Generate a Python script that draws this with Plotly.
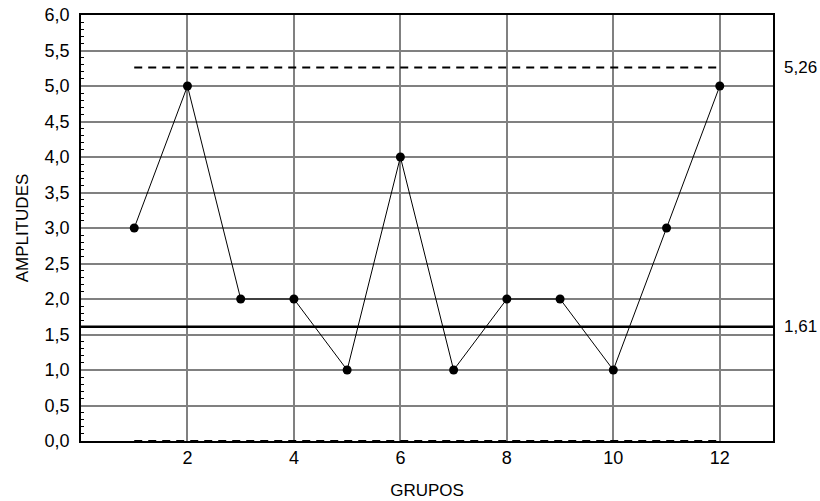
import plotly.graph_objects as go

grupos = [1, 2, 3, 4, 5, 6, 7, 8, 9, 10, 11, 12]
amplitudes = [3, 5, 2, 2, 1, 4, 1, 2, 2, 1, 3, 5]
lsc = 5.26
lc = 1.61
lic = 0.0
x_ticks = [2, 4, 6, 8, 10, 12]

fig = go.Figure()
fig.add_trace(go.Scatter(x=[grupos[0], grupos[-1]], y=[lsc, lsc], mode="lines",
                         line=dict(color="black", width=2, dash="8px,6px"), hoverinfo="skip"))
fig.add_trace(go.Scatter(x=[grupos[0], grupos[-1]], y=[lic, lic], mode="lines",
                         line=dict(color="black", width=2, dash="8px,6px"), hoverinfo="skip"))
fig.add_hline(y=lc, line=dict(color="black", width=2.5))
fig.add_trace(go.Scatter(x=grupos, y=amplitudes, mode="lines+markers",
                         line=dict(color="black", width=1),
                         marker=dict(color="black", size=9)))

fig.add_annotation(x=1, xref="paper", y=lsc, yref="y", text="5,26", showarrow=False,
                   xanchor="left", xshift=9, font=dict(size=17, color="black"))
fig.add_annotation(x=1, xref="paper", y=lc, yref="y", text="1,61", showarrow=False,
                   xanchor="left", xshift=9, font=dict(size=17, color="black"))

fig.update_layout(
    width=820, height=501,
    margin=dict(l=81, r=47, t=15, b=60, autoexpand=False),
    plot_bgcolor="white", paper_bgcolor="white",
    showlegend=False,
    separators=",.",
    font=dict(family="Liberation Sans, Arial, sans-serif", size=17, color="black"),
    xaxis=dict(range=[0, 13], tickvals=x_ticks, showgrid=True, gridcolor="#808080", gridwidth=2,
               showline=True, linecolor="black", linewidth=1.5, mirror=True, zeroline=False,
               ticks="", ticklabelstandoff=0, tickfont=dict(size=18),
               title=dict(text="GRUPOS", standoff=17, font=dict(size=17))),
    yaxis=dict(range=[0, 6], dtick=0.5, tickformat=".1f", showgrid=True, gridcolor="#808080", gridwidth=2,
               showline=True, linecolor="black", linewidth=1.5, mirror=True, zeroline=False,
               ticks="", ticklabelstandoff=6, tickfont=dict(size=18),
               minor=dict(dtick=0.1, ticks="inside", ticklen=3, tickcolor="black", showgrid=False),
               title=dict(text="AMPLITUDES", standoff=12, font=dict(size=17))),
)
fig.write_html("out.html", config={"displayModeBar": False},
               post_script="document.body.style.margin='0';")
